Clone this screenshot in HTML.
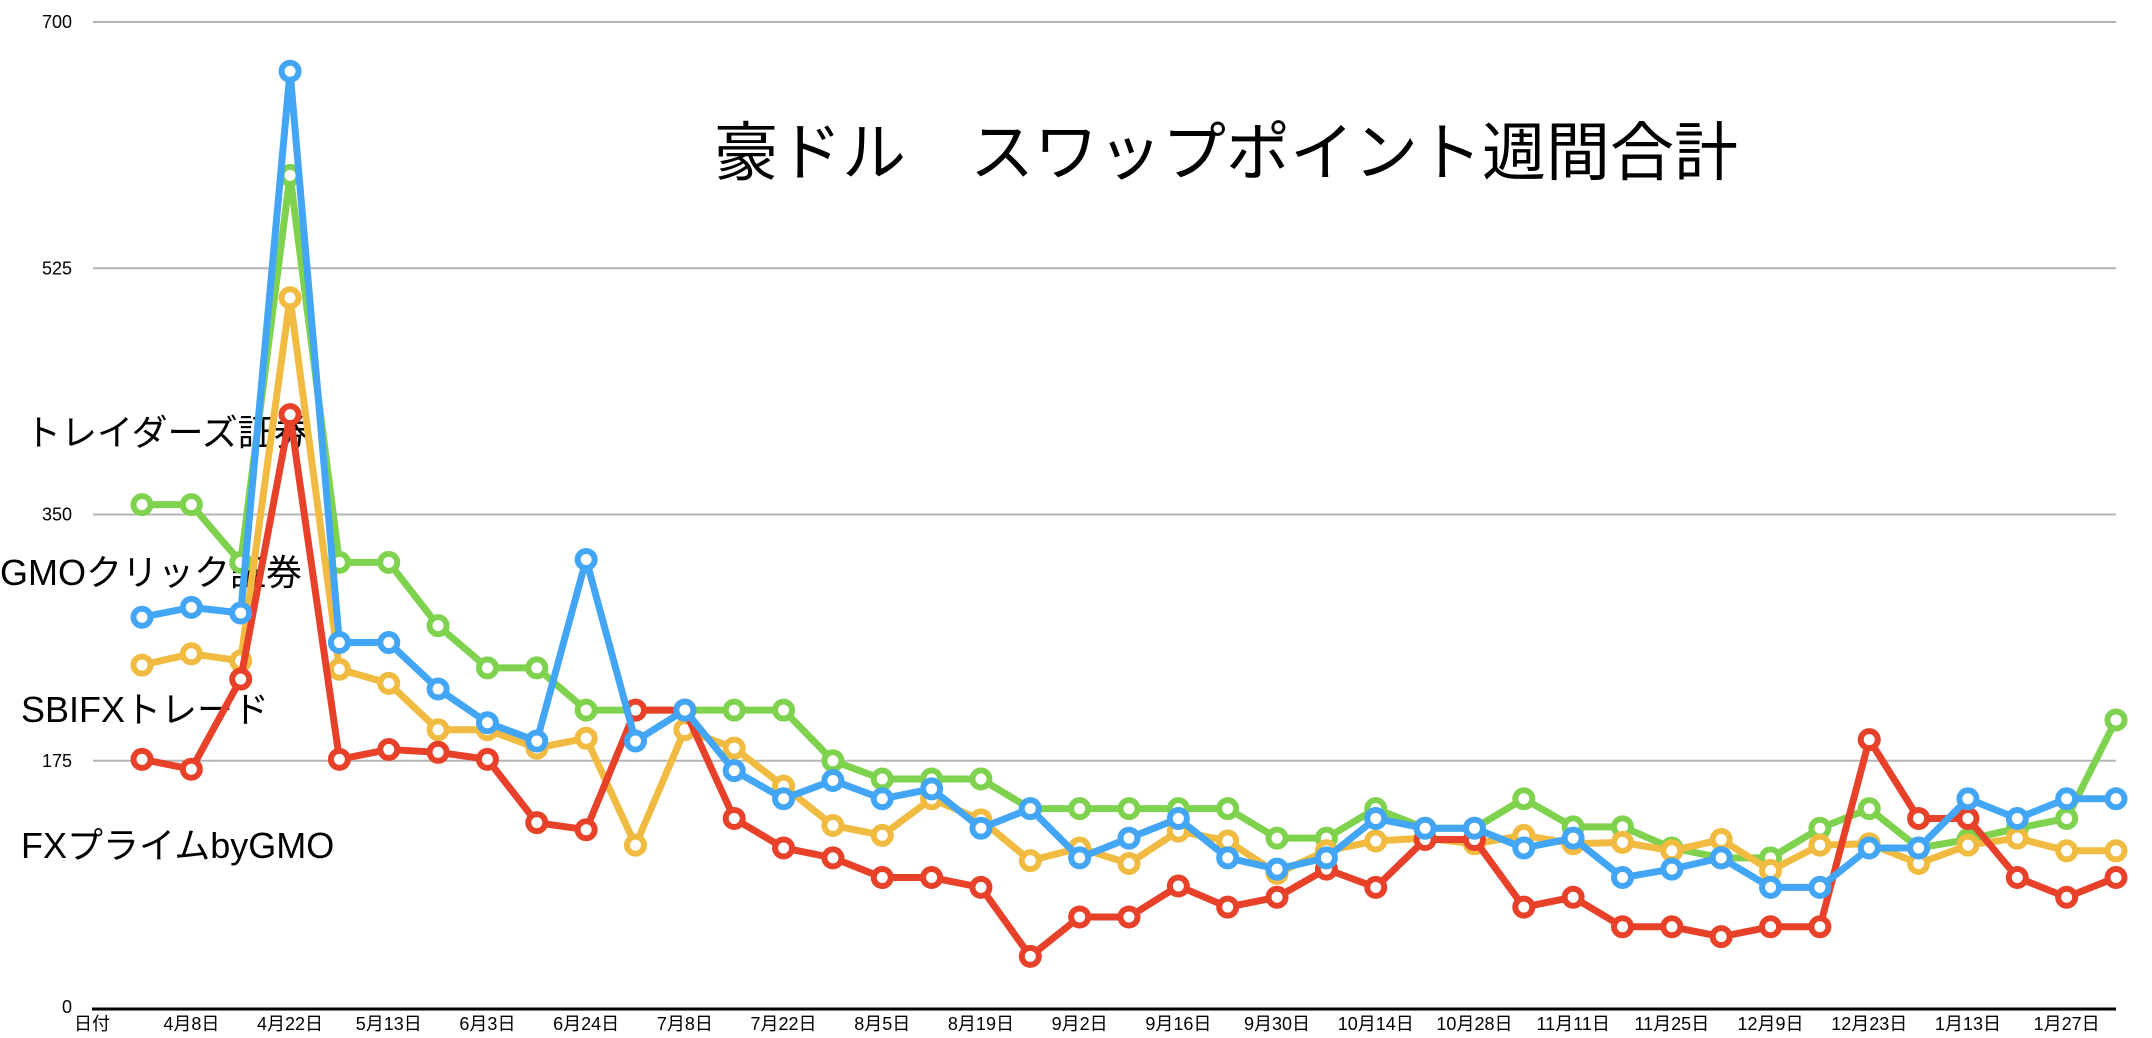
<!DOCTYPE html>
<html><head><meta charset="utf-8">
<style>
html,body{margin:0;padding:0;background:#fff;}
svg{display:block;font-family:"Liberation Sans","Noto Sans CJK JP",sans-serif;}
</style></head>
<body>
<svg id="chart" width="2152" height="1038" viewBox="0 0 2152 1038" xmlns="http://www.w3.org/2000/svg">
<g id="grid"></g>
<g id="yticks"></g>
<g id="xticks"></g>
<g font-size="36" fill="#000">
<text x="25" y="445">トレイダーズ証券</text>
<text x="0" y="585">GMOクリック証券</text>
<text x="21" y="722">SBIFXトレード</text>
<text x="21" y="858">FXプライムbyGMO</text>
</g>
<text x="1226" y="175" font-size="64" text-anchor="middle" fill="#000">豪ドル　スワップポイント週間合計</text>
<g id="series"></g>
</svg>
<script>
const yTicks = [0, 175, 350, 525, 700];
const xLabels = ["4月8日","4月22日","5月13日","6月3日","6月24日","7月8日","7月22日","8月5日","8月19日","9月2日","9月16日","9月30日","10月14日","10月28日","11月11日","11月25日","12月9日","12月23日","1月13日","1月27日"];
const xLabelIdx = [1,3,5,7,9,11,13,15,17,19,21,23,25,27,29,31,33,35,37,39];
const green = [357,357,316,591,316,316,271,241,241,211,211,211,211,211,175,162,162,162,141,141,141,141,141,120,120,141,127,127,148,128,128,113,106,106,127,141,113,119,127,134,204];
const yellow = [243,251,246,504,240,230,197,197,184,191,115,197,184,157,129,122,148,133,104,113,102,125,118,95,111,118,120,116,122,116,117,111,119,97,115,116,102,115,120,111,111];
const red = [176,169,233,421,176,183,181,176,131,126,211,211,134,113,106,92,92,85,36,64,64,86,71,78,98,85,119,119,71,78,57,57,50,57,57,190,134,134,92,78,92];
const blue = [277,284,280,665,259,259,226,202,189,318,189,211,168,148,161,148,155,127,141,106,120,134,106,98,106,134,127,127,113,120,92,98,106,85,85,113,113,148,134,148,148];

const NS = "http://www.w3.org/2000/svg";
const X0 = 142, XSTEP = (2116-142)/40, Y0 = 1007, Y700 = 22;
function xs(i){ return X0 + i*XSTEP; }
function ys(v){ return Y0 - (v/700)*(Y0-Y700); }
function mk(tag, attrs){ const e=document.createElementNS(NS,tag); for(const k in attrs) e.setAttribute(k,attrs[k]); return e; }

const grid=document.getElementById('grid'), yt=document.getElementById('yticks'), xt=document.getElementById('xticks'), ser=document.getElementById('series');
yTicks.forEach(v=>{
  const y=ys(v);
  if(v>0){
    const l=mk('line',{x1:93,x2:2116,y1:y,y2:y,stroke:'#b5b5b5','stroke-width':2});
    
    
    grid.appendChild(l);
  }
  const t=mk('text',{x:72,y:y+6,'font-size':18,'text-anchor':'end',fill:'#000'});
  t.textContent=v;
  
  
  yt.appendChild(t);
});
const ax=mk('line',{x1:92,x2:2116,y1:Y0+2,y2:Y0+2,stroke:'#000','stroke-width':3});


grid.appendChild(ax);
const d0=mk('text',{x:74,y:1030,'font-size':18,fill:'#000'});
d0.textContent='日付';


xt.appendChild(d0);
xLabels.forEach((s,k)=>{
  const t=mk('text',{x:xs(xLabelIdx[k]),y:1030,'font-size':18,'text-anchor':'middle',fill:'#000'});
  t.textContent=s;
  
  
  xt.appendChild(t);
});
const seriesList=[['series-traders',green,'#7ed24e'],['series-fxprime',yellow,'#f0bb40'],['series-sbifx',red,'#e8412a'],['series-gmo-click',blue,'#42a5f5']];
seriesList.forEach(([name,vals,col])=>{
  const g=mk('g',{});
  
  
  const pts=vals.map((v,i)=>xs(i)+','+ys(v)).join(' ');
  const pl=mk('polyline',{points:pts,fill:'none',stroke:col,'stroke-width':7,'stroke-linejoin':'round'});
  
  
  g.appendChild(pl);
  vals.forEach((v,i)=>{
    const c=mk('circle',{cx:xs(i),cy:ys(v),r:8.5,fill:'#fff',stroke:col,'stroke-width':6});
    
    
    g.appendChild(c);
  });
  ser.appendChild(g);
});
</script>
</body></html>
